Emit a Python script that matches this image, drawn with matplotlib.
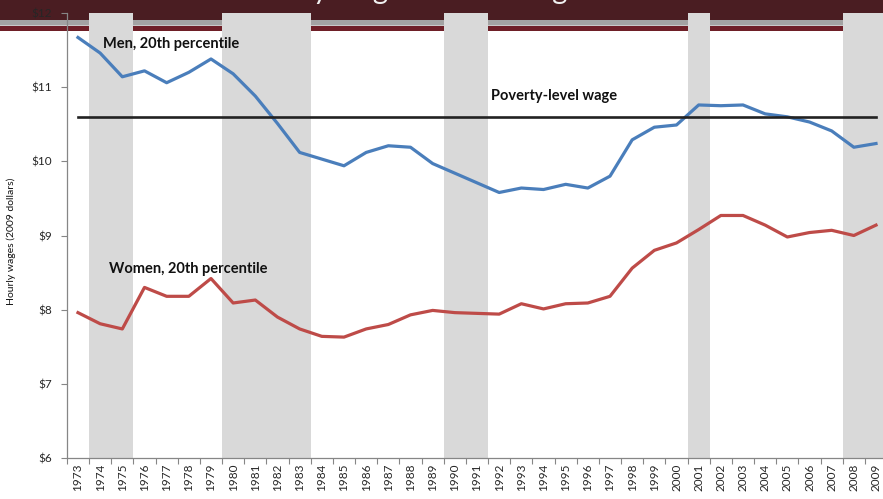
import matplotlib
matplotlib.use("Agg")
import matplotlib.pyplot as plt
from matplotlib.patches import Rectangle

plt.rcParams['font.family'] = ['Lato', 'DejaVu Sans']

years = list(range(1973, 2010))

men_20th = [11.67, 11.46, 11.14, 11.22, 11.06, 11.20, 11.38, 11.18, 10.88, 10.51,
            10.12, 10.03, 9.94, 10.12, 10.21, 10.19, 9.97, 9.84, 9.71, 9.58,
            9.64, 9.62, 9.69, 9.64, 9.80, 10.29, 10.46, 10.49, 10.76, 10.75,
            10.76, 10.64, 10.60, 10.53, 10.41, 10.19, 10.24]

women_20th = [7.96, 7.81, 7.74, 8.30, 8.18, 8.18, 8.42, 8.09, 8.13, 7.90,
              7.74, 7.64, 7.63, 7.74, 7.80, 7.93, 7.99, 7.96, 7.95, 7.94,
              8.08, 8.01, 8.08, 8.09, 8.18, 8.56, 8.80, 8.90, 9.08, 9.27,
              9.27, 9.14, 8.98, 9.04, 9.07, 9.00, 9.14]

poverty_wage = 10.60

# recession years (first, last)
recessions = [(1974, 1975), (1980, 1983), (1990, 1991), (2001, 2001), (2008, 2009)]

title = "Real hourly wages of low-wage workers"

W, H = 883, 499
fig = plt.figure(figsize=(W / 100, H / 100), dpi=100)
fig.patch.set_facecolor("white")

# header banner behind the plot
def band(y0, y1, color):
    fig.patches.append(Rectangle((0, 1 - y1 / H), 1, (y1 - y0) / H,
                                 transform=fig.transFigure, color=color,
                                 zorder=-2, linewidth=0))

band(0, 19.5, "#4a1d22")
band(19.5, 25, "#a3a3a3")
band(25, 26, "#c9c9c9")
band(26, 30.5, "#6e1f27")

fig.text(0.497, 1 + 1.5 / H, title, color="#f0f0f0", fontsize=21,
         ha="center", va="baseline", zorder=-1)

left, right, top, bottom = 66.9, 887.1, 13, 458
ax = fig.add_axes([left / W, 1 - bottom / H, (right - left) / W, (bottom - top) / H])
ax.set_facecolor("none")

x = list(range(len(years)))

for a, b in recessions:
    ax.axvspan(years.index(a) - 0.5, years.index(b) + 0.5, color="#d9d9d9",
               linewidth=0, zorder=1)

ax.plot(x, men_20th, color="#4a7ebb", lw=2.3, zorder=3, solid_joinstyle="round")
ax.plot(x, women_20th, color="#be4b48", lw=2.3, zorder=3, solid_joinstyle="round")
ax.plot([x[0], x[-1]], [poverty_wage, poverty_wage], color="#222222", lw=1.9, zorder=4)

ax.text(1.13, 11.58, "Men, 20th percentile", fontsize=10.5, fontweight="bold",
        va="center", ha="left", color="#111111", zorder=5)
ax.text(18.63, 10.88, "Poverty-level wage", fontsize=10.5, fontweight="bold",
        va="center", ha="left", color="#111111", zorder=5)
ax.text(1.40, 8.55, "Women, 20th percentile", fontsize=10.5, fontweight="bold",
        va="center", ha="left", color="#111111", zorder=5)

ax.set_xlim(-0.5, len(years) - 0.5)
ax.set_ylim(6, 12)

ax.set_yticks(range(6, 13))
ax.set_yticklabels([f"${v}" for v in range(6, 13)])
ax.set_xticks(x)
ax.set_xticklabels([str(y) for y in years], rotation=90)
ax.set_xticks([i - 0.5 for i in range(len(years) + 1)], minor=True)

ax.tick_params(axis="y", length=4, width=0.8, color="#868686", pad=6.5,
               labelsize=8.5, labelcolor="#262626")
ax.tick_params(axis="x", which="major", length=0, pad=4, labelsize=8.5,
               labelcolor="#262626")
ax.tick_params(axis="x", which="minor", length=4, width=0.8, color="#868686")

for s in ("top", "right"):
    ax.spines[s].set_visible(False)
for s in ("left", "bottom"):
    ax.spines[s].set_color("#868686")
    ax.spines[s].set_linewidth(0.9)

ax.set_ylabel("Hourly wages (2009 dollars)", fontsize=7.5, color="#111111")
ax.yaxis.set_label_coords(-51 / (right - left), 0.487)

fig.savefig("out.png", dpi=100)
